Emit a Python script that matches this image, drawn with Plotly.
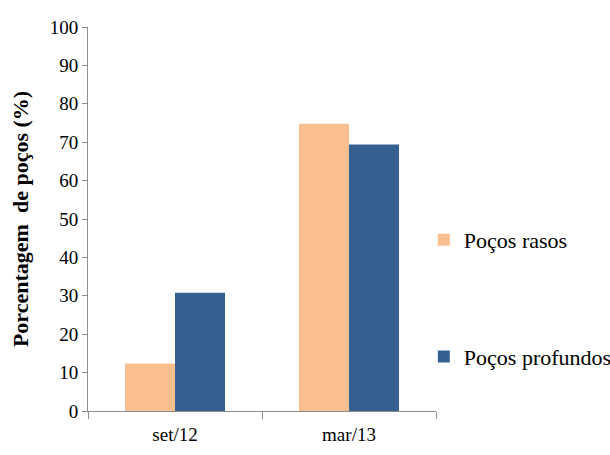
import plotly.graph_objects as go

categories = ["set/12", "mar/13"]
pocos_rasos = [12.4, 74.8]
pocos_profundos = [30.8, 69.4]
y_ticks = list(range(0, 101, 10))

serif = "Liberation Serif"

fig = go.Figure()
fig.add_trace(go.Bar(
    x=categories, y=pocos_rasos, name="Poços rasos",
    marker=dict(color="#F9BF8F", line=dict(width=0)),
    legendgroup="a",
))
fig.add_trace(go.Bar(
    x=categories, y=pocos_profundos, name="Poços profundos",
    marker=dict(color="#366092", line=dict(width=0)),
    legendgroup="b",
))

fig.update_layout(
    width=610, height=455,
    margin=dict(l=88, r=174, t=27, b=44, autoexpand=False),
    paper_bgcolor="white", plot_bgcolor="white",
    barmode="group", bargap=0.425, bargroupgap=0,
    font=dict(family=serif, color="black"),
    showlegend=True,
    legend=dict(
        x=0.965, xanchor="left", y=0.50, yanchor="top",
        font=dict(family=serif, size=22, color="black"),
        tracegroupgap=85,
        bgcolor="rgba(0,0,0,0)",
    ),
    xaxis=dict(
        showline=True, linecolor="#8C8C8C", linewidth=1,
        ticks="outside", tickson="boundaries", ticklen=7, tickcolor="#8C8C8C",
        tickfont=dict(family=serif, size=19, color="black"),
        ticklabelstandoff=6,
        showgrid=False, zeroline=False,
    ),
    yaxis=dict(
        range=[0, 100], tickvals=y_ticks,
        showline=True, linecolor="#8C8C8C", linewidth=1,
        ticks="outside", ticklen=5, tickcolor="#8C8C8C",
        tickfont=dict(family=serif, size=19, color="black"),
        showgrid=False, zeroline=False,
        title=dict(text="<b>Porcentagem\u00a0 de poços (%)</b>",
                   font=dict(family=serif, size=22, color="black"),
                   standoff=15),
    ),
)

fig.write_html("out.html")
